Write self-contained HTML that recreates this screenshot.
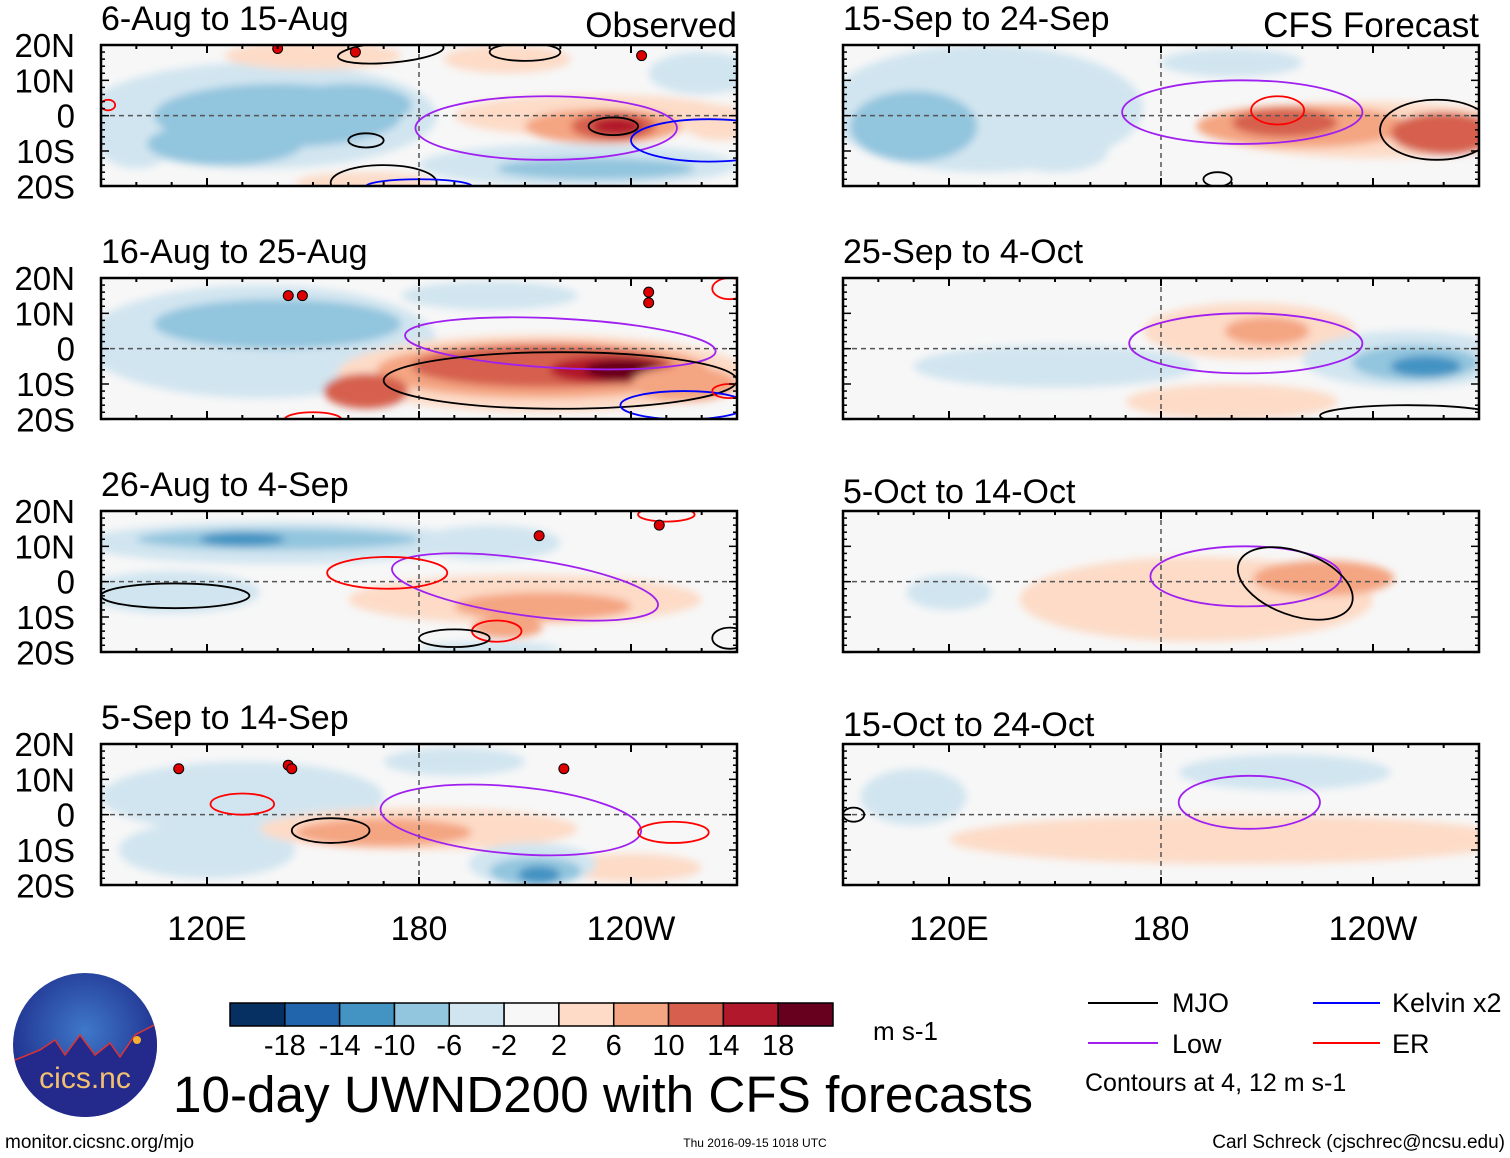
<!DOCTYPE html>
<html><head><meta charset="utf-8">
<style>
body{margin:0;background:#fff;}
svg{display:block;font-family:"Liberation Sans",sans-serif;}
</style></head>
<body>
<svg id="chart" width="1510" height="1158" viewBox="0 0 1510 1158" xmlns="http://www.w3.org/2000/svg">
<defs>
<filter id="blur" x="-20%" y="-20%" width="140%" height="140%"><feGaussianBlur stdDeviation="4"/></filter>
<radialGradient id="logoGrad" cx="50%" cy="40%" r="60%"><stop offset="0" stop-color="#3f78c8"/><stop offset="1" stop-color="#1c2a8a"/></radialGradient>
<clipPath id="logoClip"><circle cx="85" cy="1045" r="72"/></clipPath>
</defs>
<g id="panels"></g>
<g id="footer">
  <g>
    <circle cx="85" cy="1045" r="72" fill="url(#logoGrad)"/>
    <path clip-path="url(#logoClip)" d="M10,1062 L40,1050 L55,1040 L65,1055 L80,1035 L95,1055 L110,1043 L120,1057 L135,1035 L160,1022 L160,1120 L10,1120 Z" fill="#232a8c" stroke="#d33" stroke-width="1.5"/>
    <circle cx="137" cy="1040" r="4" fill="#f7b030"/>
    <text x="85" y="1088" font-size="30" fill="#f4c070" text-anchor="middle">cics.nc</text>
  </g>
  <text x="5" y="1148" font-size="19">monitor.cicsnc.org/mjo</text>
  <text x="755" y="1147" font-size="12" text-anchor="middle">Thu 2016-09-15 1018 UTC</text>
  <text x="1505" y="1148" font-size="19" text-anchor="end">Carl Schreck (cjschrec@ncsu.edu)</text>
  <text x="173" y="1112" font-size="51" textLength="860" lengthAdjust="spacingAndGlyphs">10-day UWND200 with CFS forecasts</text>
  <g id="colorbar"></g>
  <text x="873" y="1040" font-size="26">m s-1</text>
  <g>
    <line x1="1088" y1="1003" x2="1158" y2="1003" stroke="#000" stroke-width="2"/>
    <text x="1172" y="1012" font-size="27">MJO</text>
    <line x1="1088" y1="1043" x2="1158" y2="1043" stroke="#a020f0" stroke-width="2"/>
    <text x="1172" y="1053" font-size="27">Low</text>
    <line x1="1313" y1="1003" x2="1380" y2="1003" stroke="#0000ff" stroke-width="2"/>
    <text x="1392" y="1012" font-size="27">Kelvin x2</text>
    <line x1="1313" y1="1043" x2="1380" y2="1043" stroke="#ff0000" stroke-width="2"/>
    <text x="1392" y="1053" font-size="27">ER</text>
    <text x="1085" y="1091" font-size="25">Contours at 4, 12 m s-1</text>
  </g>
</g>
</svg>
<script>
const colors = ['#053061','#2166ac','#4393c3','#92c5de','#d1e5f0','#f7f7f7','#fddbc7','#f4a582','#d6604d','#b2182b','#67001f'];
const cbLabels = ['-18','-14','-10','-6','-2','2','6','10','14','18'];
const latTicks = ['20N','10N','0','10S','20S'];
const latVals = [20,10,0,-10,-20];
const lonTickLabels = ['120E','180','120W'];
const lonTickVals = [120,180,240];
const titles = ['6-Aug to 15-Aug','16-Aug to 25-Aug','26-Aug to 4-Sep','5-Sep to 14-Sep','15-Sep to 24-Sep','25-Sep to 4-Oct','5-Oct to 14-Oct','15-Oct to 24-Oct'];
// shading blobs: [lon, lat, rLon, rLat, level]
const shade1 = [[135,0,50,15,4],[100,-5,12,10,4],[140,0,35,9,3],[125,-8,22,6,3],[160,3,18,6,3],[225,-14,45,6,4],[230,-15,28,3,3],[150,17,25,4,6],[205,16,18,4,6],[165,-19,20,3,6],[230,0,40,6,6],[232,-3,22,5,7],[235,-3,12,4,8],[236,-3,7,2.5,9],[260,12,15,6,4],[265,-2,10,5,6]];
const shade2 = [[135,2,50,16,4],[140,7,35,7,3],[200,15,25,4,4],[215,-7,58,11,6],[215,-6,47,8,7],[215,-5,37,6,8],[235,-6,18,4,9],[238,-6,11,3,10],[165,-12,12,5,8],[255,-10,15,5,7]];
const shade3 = [[140,11,55,6,4],[140,12,40,3,3],[130,12,12,2,2],[200,11,20,5,4],[110,-3,25,6,4],[210,-5,50,7,6],[215,-7,25,4,7],[205,-13,10,3,7],[200,-19,20,2,4]];
const shade4 = [[130,5,40,10,4],[120,-10,25,8,4],[180,-4,45,6,6],[170,-5,25,4,7],[240,-15,20,4,6],[212,-14,18,6,4],[213,-16,13,4,3],[214,-17,6,2.5,2],[190,15,20,4,4]];
const shade5 = [[130,2,45,18,4],[110,-3,18,10,3],[150,-10,15,6,4],[240,-4,45,8,6],[220,-3,30,6,7],[215,-2,15,4,8],[260,-5,15,6,8],[200,15,20,4,4]];
const shade6 = [[150,-5,40,6,4],[205,5,30,8,6],[210,5,12,4,7],[250,-3,30,8,4],[252,-4,18,5,3],[255,-5,10,3,2],[200,-15,30,5,6]];
const shade7 = [[190,-5,50,12,6],[226,1,20,5,7],[120,-3,12,5,4]];
const shade8 = [[200,-7,80,7,6],[215,12,30,5,4],[110,5,15,8,4]];
// contours: [lon, lat, rLon, rLat, rotation, type]
const cont1 = [[216,-3.5,37,9,0,'low'],[235,-3,7,2.5,0,'mjo'],[172,18,15,3,-5,'mjo'],[210,18,10,2.5,0,'mjo'],[165,-7,5,2,0,'mjo'],[170,-19,15,5,0,'mjo'],[180,-20,15,2,0,'kelvin'],[92,3,2,1.5,0,'er'],[262,-7,22,6,0,'kelvin']];
const cont2 = [[220,1.5,44,7,3,'low'],[220,-9,50,8,0,'mjo'],[255,-16,18,4,0,'kelvin'],[268,-12,5,2,0,'er'],[150,-20,8,2,0,'er'],[268,17,5,3,0,'er']];
const cont3 = [[210,-1.5,38,8,8,'low'],[171,2.5,17,4.5,0,'er'],[202,-14,7,3,0,'er'],[111,-4,21,3.5,0,'mjo'],[190,-16,10,2.5,0,'mjo'],[268,-16,5,3,0,'mjo'],[250,19,8,2,0,'er']];
const cont4 = [[206,-1.5,37,9.5,5,'low'],[130,3,9,3,0,'er'],[252,-5,10,3,0,'er'],[155,-4.5,11,3.5,0,'mjo']];
const cont5 = [[203,1,34,9,0,'low'],[213,1.5,7.5,4,0,'er'],[258,-4,16,8.5,0,'mjo'],[196,-18,4,2,0,'mjo']];
const cont6 = [[204,1.5,33,8.5,0,'low'],[250,-19,25,3,0,'mjo']];
const cont7 = [[204,1.5,27,8.5,0,'low'],[218,-0.5,17,9,20,'mjo']];
const cont8 = [[205,3.5,20,7.5,0,'low'],[93,0,3,2,0,'mjo']];
const storms1 = [[140,19],[162,18],[243,17]];
const storms2 = [[143,15],[147,15],[245,16],[245,13]];
const storms3 = [[214,13],[248,16]];
const storms4 = [[112,13],[143,14],[144,13],[221,13]];
const shades=[shade1,shade2,shade3,shade4,shade5,shade6,shade7,shade8];
const conts=[cont1,cont2,cont3,cont4,cont5,cont6,cont7,cont8];
const storms=[storms1,storms2,storms3,storms4,[],[],[],[]];
const lineColor={mjo:'#000',low:'#a020f0',kelvin:'#0000ff',er:'#ff0000'};
const NS='http://www.w3.org/2000/svg';
const PW=636, PH=141, LON0=90, LAT0=20, S=PW/180;
const lefts=[101,843], tops=[45,278,511,744];
function mk(t,a,p){const e=document.createElementNS(NS,t);for(const k in a)e.setAttribute(k,a[k]);p.appendChild(e);return e;}
const root=document.getElementById('panels');
for(let i=0;i<8;i++){
  const col=i<4?0:1,row=i%4,x0=lefts[col],y0=tops[row];
  const xs=lon=>x0+(lon-LON0)*S, ys=lat=>y0+(LAT0-lat)*S;
  const g=mk('g',{},root);
  
  
  const cp=mk('clipPath',{id:'cp'+i},g);mk('rect',{x:x0,y:y0,width:PW,height:PH},cp);
  mk('rect',{x:x0,y:y0,width:PW,height:PH,fill:'#f7f7f7'},g);
  const sg=mk('g',{'clip-path':'url(#cp'+i+')'},g);
  const bg=mk('g',{filter:'url(#blur)'},sg);
  shades[i].forEach(b=>{const e=mk('ellipse',{cx:xs(b[0]),cy:ys(b[1]),rx:b[2]*S,ry:b[3]*S,fill:colors[b[4]]},bg);
    
    });
  mk('line',{x1:x0,y1:ys(0),x2:x0+PW,y2:ys(0),stroke:'#555','stroke-width':1.5,'stroke-dasharray':'5,4'},sg);
  mk('line',{x1:xs(180),y1:y0,x2:xs(180),y2:y0+PH,stroke:'#555','stroke-width':1.5,'stroke-dasharray':'5,4'},sg);
  conts[i].forEach(c=>{const e=mk('ellipse',{cx:xs(c[0]),cy:ys(c[1]),rx:c[2]*S,ry:c[3]*S,fill:'none',stroke:lineColor[c[5]],'stroke-width':1.8,transform:'rotate('+c[4]+' '+xs(c[0])+' '+ys(c[1])+')'},sg);
    
    });
  storms[i].forEach(s=>{const e=mk('circle',{cx:xs(s[0]),cy:ys(s[1]),r:5,fill:'#d00',stroke:'#000','stroke-width':1},sg);
    
    });
  mk('rect',{x:x0,y:y0,width:PW,height:PH,fill:'none',stroke:'#000','stroke-width':2.5},g);
  for(let lon=LON0;lon<=270;lon+=10){const maj=lonTickVals.includes(lon);const L=maj?8:4;
    mk('line',{x1:xs(lon),y1:y0,x2:xs(lon),y2:y0+L,stroke:'#000','stroke-width':2},g);
    mk('line',{x1:xs(lon),y1:y0+PH,x2:xs(lon),y2:y0+PH-L,stroke:'#000','stroke-width':2},g);}
  for(let lat=-20;lat<=20;lat+=2){const maj=lat%10===0;const L=maj?8:4;
    mk('line',{x1:x0,y1:ys(lat),x2:x0+L,y2:ys(lat),stroke:'#000','stroke-width':1.5},g);
    mk('line',{x1:x0+PW,y1:ys(lat),x2:x0+PW-L,y2:ys(lat),stroke:'#000','stroke-width':1.5},g);}
  const tb=[30,263,496,729][row]+(col===1&&row>=2?7:0);
  const t=mk('text',{x:x0,y:tb,'font-size':34},g);t.textContent=titles[i];
  
  
  if(col===0){latTicks.forEach((lb,k)=>{const tt=mk('text',{x:75,y:ys(latVals[k])+12,'font-size':33,'text-anchor':'end'},g);tt.textContent=lb;
    
    });}
  if(row===3){lonTickLabels.forEach((lb,k)=>{const tt=mk('text',{x:xs(lonTickVals[k]),y:940,'font-size':34,'text-anchor':'middle'},g);tt.textContent=lb;
    
    });}
}
const ob=mk('text',{x:737,y:37,'font-size':35,'text-anchor':'end'},root);ob.textContent='Observed';


const cf=mk('text',{x:1479,y:37,'font-size':35,'text-anchor':'end'},root);cf.textContent='CFS Forecast';


const cb=document.getElementById('colorbar');const bw=(833-230)/colors.length;
colors.forEach((c,k)=>{const r=mk('rect',{x:230+k*bw,y:1003,width:bw,height:23,fill:c,stroke:'#000','stroke-width':1.5},cb);
  
  });
cbLabels.forEach((l,k)=>{const t=mk('text',{x:230+(k+1)*bw,y:1055,'font-size':29,'text-anchor':'middle'},cb);t.textContent=l;
  
  });
</script>
</body></html>
